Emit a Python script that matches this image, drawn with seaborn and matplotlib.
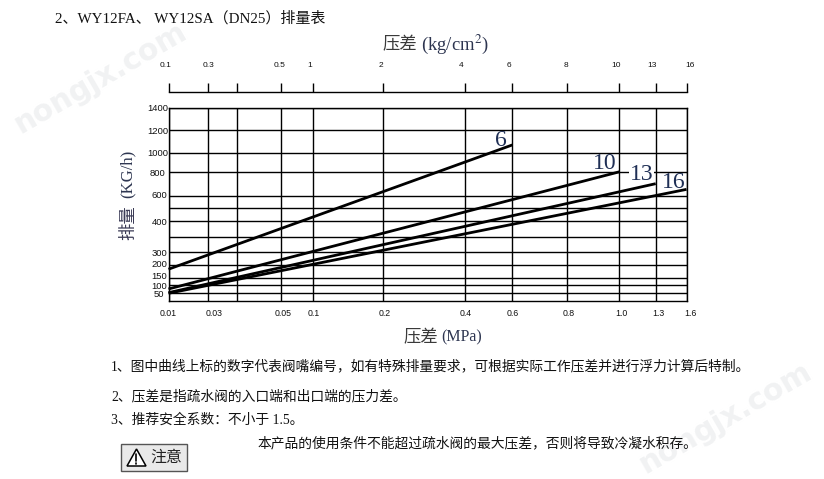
import numpy as np
import pandas as pd
import matplotlib
matplotlib.use("Agg")
import matplotlib.pyplot as plt
from matplotlib.patches import Polygon, Rectangle
from matplotlib.transforms import ScaledTranslation
from matplotlib.ticker import FixedLocator, FixedFormatter
import seaborn as sns

# ---- chart values -------------------------------------------------------
mpa_ticks = [0.01, 0.03, 0.04, 0.05, 0.1, 0.2, 0.4, 0.6, 0.8, 1.0, 1.3, 1.6]
mpa_labels = ["0.01", "0.03", "", "0.05", "0.1", "0.2", "0.4", "0.6", "0.8", "1.0", "1.3", "1.6"]
kg_labels = ["0.1", "0.3", "", "0.5", "1", "2", "4", "6", "8", "10", "13", "16"]
flow_ticks = [50, 100, 150, 200, 300, 350, 400, 500, 600, 800, 1000, 1200, 1400]
flow_labels = ["50", "100", "150", "200", "300", "", "400", "", "600", "800", "1000", "1200", "1400"]
series_names = ["6", "10", "13", "16"]
series_x_start = [0.01, 0.01, 0.01, 0.01]
series_x_end = [0.6, 1.0, 1.3, 1.6]
series_y_start = [185, 77, 54, 50]
series_y_end = [1070, 805, 704, 656]

# The printed chart's axes are hand spaced: value -> pixel position anchors
W, H = 824, 479
L, R, T, B = 168.5, 686.5, 107.5, 301.0
x_anchor_px = [168.5, 208.3, 237.3, 281.3, 313.3, 383.3, 465.3, 512.3, 567.3, 619.3, 655.7, 686.5]
y_anchor_val = [0] + flow_ticks
y_anchor_px = [301.0, 293.3, 285.3, 278.3, 265.3, 252.3, 237.3, 221.3, 208.3, 196.0, 172.3, 153.0, 130.0, 107.5]

def x_fwd(v):
    return np.interp(v, mpa_ticks, x_anchor_px, left=None, right=None)
def x_inv(p):
    return np.interp(p, x_anchor_px, mpa_ticks)
y_px_rev = [-p for p in y_anchor_px]
def y_fwd(v):
    return np.interp(v, y_anchor_val, y_px_rev)
def y_inv(p):
    return np.interp(p, y_px_rev, y_anchor_val)

sns.set_theme(style="white")
FONT = ["Liberation Serif", "Noto Sans CJK SC"]
SANS = ["Liberation Sans"]
plt.rcParams["font.family"] = FONT
INK = "#111111"
NAVY = "#1f2f55"

fig = plt.figure(figsize=(W / 100, H / 100), dpi=100, facecolor="white")

def rect(l, t, r, b):
    return [l / W, 1 - b / H, (r - l) / W, (b - t) / H]

def put(px, py, s, **kw):
    kw.setdefault("va", "center")
    kw.setdefault("ha", "left")
    kw.setdefault("color", INK)
    return fig.text(px / W, 1 - py / H, s, **kw)

# ---- main plot ----------------------------------------------------------
ax = fig.add_axes(rect(L, T, R, B))
ax.set_xscale("function", functions=(x_fwd, x_inv))
ax.set_yscale("function", functions=(y_fwd, y_inv))

df = pd.concat([
    pd.DataFrame({"series": [n, n], "mpa": [xs, xe], "flow": [ys, ye]})
    for n, xs, xe, ys, ye in zip(series_names, series_x_start, series_x_end, series_y_start, series_y_end)
])
sns.lineplot(data=df, x="mpa", y="flow", hue="series", units="series", estimator=None,
             palette=["black"] * 4, linewidth=2.0, legend=False, ax=ax,
             solid_capstyle="butt", clip_on=False, zorder=4)

ax.set_xlim(0.01, 1.6)
ax.set_ylim(0, 1400)
ax.xaxis.set_major_locator(FixedLocator(mpa_ticks))
ax.xaxis.set_major_formatter(FixedFormatter(mpa_labels))
ax.xaxis.set_minor_locator(FixedLocator([]))
ax.yaxis.set_major_locator(FixedLocator(flow_ticks))
ax.yaxis.set_major_formatter(FixedFormatter(flow_labels))
ax.yaxis.set_minor_locator(FixedLocator([]))
ax.grid(True, color="black", linewidth=1.0, zorder=1)
ax.set_axisbelow(True)
ax.set_xlabel("")
ax.set_ylabel("")
for s in ax.spines.values():
    s.set_color("black")
    s.set_linewidth(1.0)
ax.tick_params(axis="x", length=0, pad=6, labelcolor=INK)
ax.tick_params(axis="y", length=0, pad=0, labelcolor=INK)
for lab in ax.get_xticklabels():
    lab.set_fontfamily(SANS)
    lab.set_fontsize(6.3)
for lab in ax.get_yticklabels():
    lab.set_fontfamily(SANS)
    lab.set_fontsize(6.8)

bottom_dx = [0, 6, 0, 1.5, 0, 1, 0, 0, 1, 2.5, 2.5, 4]
for lab, dx in zip(ax.get_xticklabels(), bottom_dx):
    lab.set_transform(lab.get_transform() + ScaledTranslation(dx / 100, 0, fig.dpi_scale_trans))
left_dy = {"600": 1, "200": 2, "150": 3}
left_dx = {"400": -1, "300": -1, "200": -1, "150": -1, "100": -1, "50": -4, "600": -1, "800": -3}
for lab, txt in zip(ax.get_yticklabels(), flow_labels):
    lab.set_transform(lab.get_transform() + ScaledTranslation(left_dx.get(txt, 0) / 100, left_dy.get(txt, 0) / 100, fig.dpi_scale_trans))

# ---- curve labels (above the grid, below the curves) --------------------
label_at = {"6": (500.5, 140), "10": (605, 164), "13": (641.5, 175), "16": (674, 182.5)}
for name in series_names:
    px, py = label_at[name]
    ax.text(px / W, 1 - py / H, name, transform=fig.transFigure, ha="center", va="center",
            fontsize=17, color=NAVY, zorder=3,
            bbox=dict(facecolor="white", edgecolor="none", pad=0.6) if name == "13" else None)

# ---- top kg/cm2 ruler ---------------------------------------------------
top = fig.add_axes(rect(L, 70, R, 91.5))
top.patch.set_alpha(0)
top.set_xscale("function", functions=(x_fwd, x_inv))
top.set_xlim(0.01, 1.6)
top.set_ylim(0, 1)
top.set_yticks([])
top.xaxis.set_major_locator(FixedLocator(mpa_ticks))
top.xaxis.set_major_formatter(FixedFormatter(kg_labels))
top.xaxis.set_minor_locator(FixedLocator([]))
for side in ["top", "left", "right"]:
    top.spines[side].set_visible(False)
top.spines["bottom"].set_color("black")
top.spines["bottom"].set_linewidth(1.0)
top.tick_params(axis="x", direction="out", top=False, bottom=False, labelbottom=False)
top.grid(False)
top.vlines(mpa_ticks, 0, 9 / 21.5, color="black", linewidth=1.0, clip_on=False)
top_label_px = [166, 208.5, None, 280, 309.5, 381, 461.5, 508.5, 566, 616, 652, 690]
for px, s in zip(top_label_px, kg_labels):
    if s:
        put(px, 65.5, s, ha="center", fontsize=6.0, color=INK, family=SANS)

# ---- axis titles --------------------------------------------------------
put(382, 45.5, "压差", fontsize=12.5, color="#3a3a3a")
put(421, 44.5, "(kg/cm$^{2}$)", fontsize=13.4, color="#2d3550", math_fontfamily="stix")
put(403, 338, "压差", fontsize=12.5, color="#3a3a3a")
put(441, 337, "(MPa)", fontsize=11.5, color="#2d3550")
put(129, 222.5, "排量", rotation=90, ha="center", fontsize=12.5, color="#3a3a55")
put(128, 174, "(KG/h)", rotation=90, ha="center", fontsize=12, color="#2d3550")

# ---- text around the chart ----------------------------------------------
put(55, 18.5, "2、WY12FA、 WY12SA（DN25）排量表", fontsize=10.8)
put(111, 366.5, "1、图中曲线上标的数字代表阀嘴编号，如有特殊排量要求，可根据实际工作压差并进行浮力计算后特制。", fontsize=9.93)
put(111, 396.5, "2、压差是指疏水阀的入口端和出口端的压力差。", fontsize=9.93)
put(111, 420.5, "3、推荐安全系数：不小于 1.5。", fontsize=9.93)
put(258, 443.5, "本产品的使用条件不能超过疏水阀的最大压差，否则将导致冷凝水积存。", fontsize=9.93)

# ---- warning box --------------------------------------------------------
bg = fig.add_axes([0, 0, 1, 1], zorder=-1)
bg.set_xlim(0, W)
bg.set_ylim(H, 0)
bg.axis("off")
bg.add_patch(Rectangle((121, 443.5), 66, 27, facecolor="#e9e9e9", edgecolor="#555555", linewidth=1.0))
bg.add_patch(Polygon([(127, 466), (136.5, 449), (146, 466)], closed=True, facecolor="white", edgecolor="black", linewidth=1.1))
bg.plot([136.5, 136.5], [454, 461], color="black", linewidth=1.2)
bg.plot([136.5, 136.5], [462.5, 464], color="black", linewidth=1.2)
put(150, 457.5, "注意", fontsize=11.5, color="#222222", zorder=5)

# ---- site watermark -----------------------------------------------------
wm = dict(color="#f1f2f3", fontsize=21.5, ha="center", rotation=30, rotation_mode="anchor",
          zorder=-2, family=["DejaVu Sans"], fontweight="bold")
put(100, 78, "nongjx.com", **wm)
put(725, 418, "nongjx.com", **wm)

fig.savefig("out.png", dpi=100)
